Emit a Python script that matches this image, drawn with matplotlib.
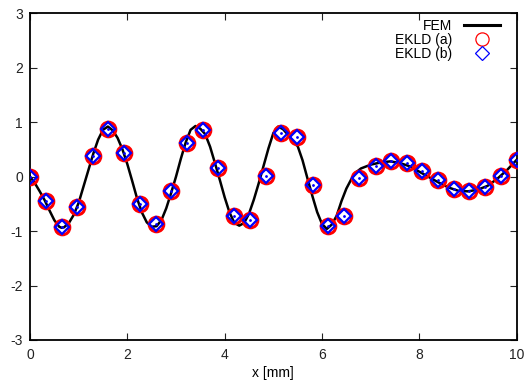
import matplotlib
matplotlib.use('Agg')
import matplotlib.pyplot as plt
from matplotlib.lines import Line2D
from matplotlib.ticker import MultipleLocator

plt.rcParams['font.family'] = ['Liberation Sans', 'DejaVu Sans']
plt.rcParams['font.size'] = 10
plt.rcParams['axes.unicode_minus'] = False

# FEM reference solution
fem_x = [0.0, 0.1, 0.2, 0.3, 0.4, 0.5, 0.6, 0.65, 0.7, 0.8, 0.9, 1.0,
         1.1, 1.2, 1.3, 1.4, 1.5, 1.6, 1.7, 1.8, 1.9, 2.0,
         2.1, 2.2, 2.3, 2.4, 2.5, 2.6, 2.7, 2.8, 2.9, 3.0,
         3.1, 3.2, 3.3, 3.4, 3.5, 3.6, 3.7, 3.8, 3.9, 4.0,
         4.1, 4.2, 4.3, 4.4, 4.5, 4.6, 4.7, 4.8, 4.9, 5.0,
         5.1, 5.2, 5.3, 5.4, 5.5, 5.6, 5.7, 5.8, 5.9, 6.0,
         6.1, 6.2, 6.3, 6.4, 6.5, 6.6, 6.7, 6.8, 7.0, 7.2,
         7.4, 7.6, 7.8, 8.0, 8.2, 8.4, 8.6, 8.8, 9.0, 9.2,
         9.4, 9.6, 9.8, 10.0]
fem_y = [0.0, -0.12, -0.27, -0.43, -0.62, -0.80, -0.92, -0.94, -0.93, -0.85, -0.70, -0.48,
         -0.18, 0.12, 0.42, 0.68, 0.86, 0.92, 0.85, 0.71, 0.50, 0.23,
         -0.08, -0.40, -0.66, -0.84, -0.92, -0.91, -0.80, -0.58, -0.30, 0.0,
         0.33, 0.63, 0.86, 0.93, 0.88, 0.78, 0.55, 0.25, -0.06, -0.38,
         -0.66, -0.85, -0.90, -0.85, -0.68, -0.42, -0.12, 0.20, 0.52, 0.80,
         0.92, 0.87, 0.77, 0.64, 0.56, 0.30, -0.03, -0.35, -0.65, -0.87,
         -0.96, -0.88, -0.72, -0.45, -0.22, -0.05, 0.08, 0.15, 0.22, 0.26,
         0.28, 0.25, 0.19, 0.09, -0.01, -0.11, -0.20, -0.26, -0.27, -0.24,
         -0.17, -0.04, 0.12, 0.31]

# EKLD sample points
pts_x = [0.0, 0.32, 0.65, 0.97, 1.29, 1.61, 1.94, 2.26, 2.58, 2.90, 3.23,
         3.55, 3.87, 4.19, 4.52, 4.84, 5.16, 5.48, 5.81, 6.13, 6.45,
         6.77, 7.10, 7.42, 7.74, 8.06, 8.39, 8.71, 9.03, 9.35, 9.68, 10.0]
ekld_a = [0.0, -0.45, -0.93, -0.55, 0.38, 0.88, 0.43, -0.50, -0.87, -0.27, 0.62,
          0.85, 0.15, -0.72, -0.79, 0.02, 0.80, 0.72, -0.16, -0.90, -0.72,
          -0.03, 0.20, 0.29, 0.25, 0.11, -0.07, -0.22, -0.26, -0.19, 0.02, 0.31]
ekld_b = list(ekld_a)

fig = plt.figure(figsize=(5.28, 3.85), dpi=100)
ax = fig.add_axes([0.0568, 0.1169, 0.9218, 0.8486])

ax.plot(fem_x, fem_y, '-', color='black', linewidth=1.8, zorder=2)
ax.plot(pts_x, ekld_a, 'o', markersize=10.5, markerfacecolor='none',
        markeredgecolor='red', markeredgewidth=2.2, zorder=3)
ax.plot(pts_x, ekld_b, 'D', markersize=7.5, markerfacecolor='none',
        markeredgecolor='blue', markeredgewidth=1.6, zorder=4)
ax.plot(pts_x, ekld_b, '.', markersize=2, color='blue', zorder=5)

ax.set_xlim(0, 10)
ax.set_ylim(-3, 3)
ax.xaxis.set_major_locator(MultipleLocator(2))
ax.yaxis.set_major_locator(MultipleLocator(1))
ax.tick_params(direction='in', length=5, width=0.8, top=True, right=True,
               labelsize=10, colors='#222222', pad=5)
ax.tick_params(axis='x', pad=6)
for s in ax.spines.values():
    s.set_linewidth(1.3)
ax.set_xlabel('x [mm]', fontsize=10, labelpad=3)

handles = [
    Line2D([], [], color='black', linewidth=2.2),
    Line2D([], [], marker='o', linestyle='none', markersize=9.5,
           markerfacecolor='none', markeredgecolor='red', markeredgewidth=0.9),
    Line2D([], [], marker='D', linestyle='none', markersize=7,
           markerfacecolor='none', markeredgecolor='blue', markeredgewidth=0.9),
]
leg = ax.legend(handles, ['FEM', 'EKLD (a)', 'EKLD (b)'], loc='upper right',
                frameon=False, markerfirst=False, fontsize=10,
                handlelength=2.6, handletextpad=0.8, labelspacing=0.0,
                borderaxespad=0.3, bbox_to_anchor=(0.985, 1.012))
for t in leg.get_texts():
    t.set_ha('right')

fig.savefig('out.png', dpi=100)
